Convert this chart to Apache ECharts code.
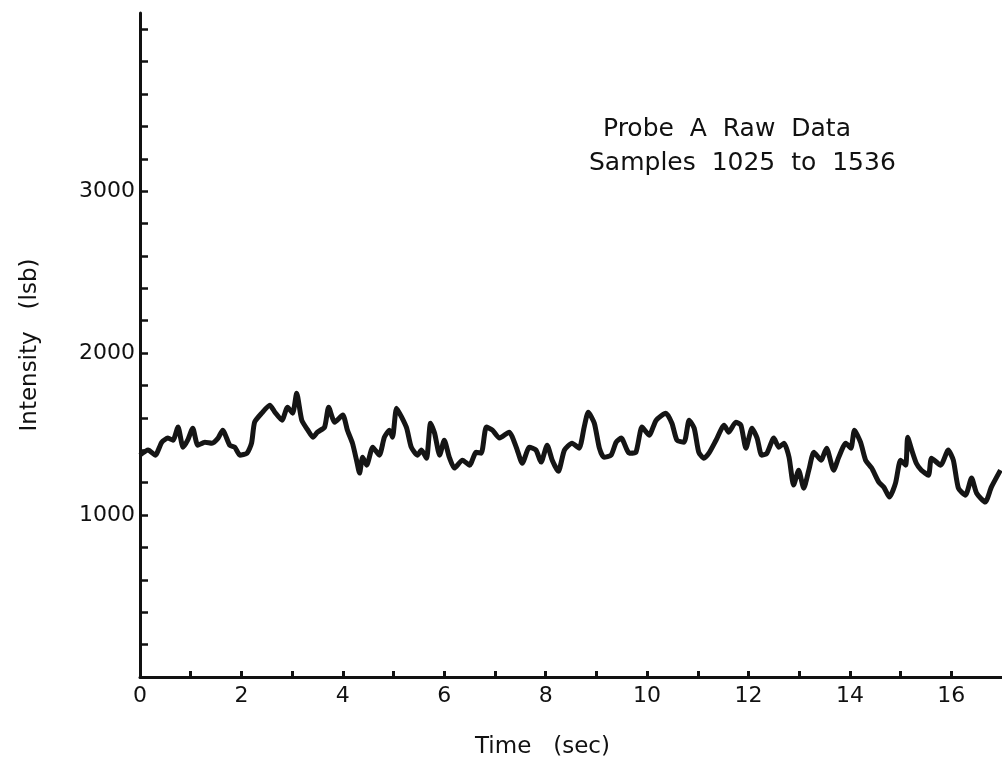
<!DOCTYPE html>
<html>
<head>
<meta charset="utf-8">
<title>Probe A Raw Data</title>
<script src="https://cdn.jsdelivr.net/npm/echarts@6/dist/echarts.min.js"></script>
<style>
  html, body { margin: 0; padding: 0; background: #fff; }
  #main { width: 1002px; height: 761px; }
</style>
</head>
<body>
<div id="main"></div>
<script>
// time (sec) and intensity (lsb)
var timeSec = [
	0.00, 0.16, 0.30, 0.43, 0.55, 0.65, 0.75, 0.85, 0.94, 1.04,
	1.14, 1.28, 1.42, 1.54, 1.63, 1.77, 1.87, 1.97, 2.11, 2.20,
	2.26, 2.40, 2.56, 2.66, 2.80, 2.91, 3.01, 3.09, 3.19, 3.31,
	3.41, 3.50, 3.64, 3.72, 3.84, 4.00, 4.09, 4.19, 4.27, 4.33,
	4.39, 4.47, 4.59, 4.72, 4.82, 4.92, 4.98, 5.06, 5.16, 5.26,
	5.35, 5.47, 5.55, 5.65, 5.73, 5.81, 5.91, 6.00, 6.10, 6.20,
	6.36, 6.50, 6.63, 6.73, 6.83, 6.95, 7.09, 7.28, 7.42, 7.54,
	7.68, 7.81, 7.91, 8.03, 8.13, 8.25, 8.37, 8.52, 8.66, 8.76,
	8.84, 8.96, 9.06, 9.15, 9.29, 9.39, 9.49, 9.65, 9.78, 9.90,
	10.04, 10.18, 10.37, 10.49, 10.59, 10.73, 10.83, 10.93, 11.02, 11.12,
	11.22, 11.36, 11.52, 11.61, 11.75, 11.85, 11.95, 12.07, 12.17, 12.26,
	12.36, 12.50, 12.60, 12.70, 12.80, 12.89, 12.99, 13.09, 13.19, 13.29,
	13.43, 13.54, 13.68, 13.78, 13.92, 14.02, 14.09, 14.21, 14.31, 14.43,
	14.57, 14.67, 14.78, 14.90, 15.00, 15.10, 15.14, 15.22, 15.31, 15.41,
	15.55, 15.61, 15.79, 15.94, 16.04, 16.14, 16.28, 16.40, 16.50, 16.67,
	16.79, 16.97
];
var intensity = [
	1370, 1401, 1370, 1450, 1475, 1462, 1543, 1419, 1462, 1536,
	1431, 1450, 1444, 1475, 1524, 1431, 1419, 1370, 1382, 1444,
	1573, 1629, 1678, 1635, 1586, 1666, 1629, 1752, 1586, 1524,
	1481, 1512, 1543, 1666, 1573, 1617, 1524, 1444, 1339, 1259,
	1357, 1308, 1419, 1370, 1481, 1524, 1481, 1660, 1604, 1536,
	1419, 1370, 1401, 1351, 1567, 1505, 1370, 1462, 1357, 1290,
	1339, 1308, 1388, 1382, 1543, 1524, 1475, 1512, 1419, 1320,
	1419, 1401, 1327, 1431, 1339, 1270, 1401, 1444, 1413, 1543,
	1635, 1567, 1413, 1357, 1370, 1450, 1475, 1382, 1388, 1543,
	1493, 1586, 1629, 1567, 1462, 1450, 1586, 1536, 1388, 1351,
	1382, 1462, 1555, 1512, 1573, 1555, 1413, 1536, 1475, 1370,
	1380, 1475, 1419, 1444, 1357, 1185, 1277, 1166, 1277, 1388,
	1339, 1413, 1277, 1357, 1444, 1413, 1524, 1450, 1339, 1290,
	1203, 1172, 1111, 1197, 1339, 1308, 1481, 1401, 1320, 1277,
	1246, 1351, 1308, 1401, 1339, 1166, 1123, 1228, 1135, 1080,
	1172, 1277
];
var xTicks = [1, 2, 3, 4, 5, 6, 7, 8, 9, 10, 11, 12, 13, 14, 15, 16];
var xLabels = [0, 2, 4, 6, 8, 10, 12, 14, 16];
var yTicks = [200, 400, 600, 800, 1000, 1200, 1400, 1600, 1800, 2000,
	2200, 2400, 2600, 2800, 3000, 3200, 3400, 3600, 3800, 4000];
var yLabels = [1000, 2000, 3000];

var chart = echarts.init(document.getElementById('main'));
var font = 'DejaVu Sans, Liberation Sans, sans-serif';

var points = [];
for (var i = 0; i < timeSec.length; i++) {
	points.push([timeSec[i], intensity[i]]);
}

var option = {
	backgroundColor: '#fff',
	animation: false,
	title: [ {
		text: 'Probe  A  Raw  Data',
		left: 598, top: 112,
		textStyle: { fontFamily: font, fontSize: 25, fontWeight: 'normal', color: '#111' }
	}, {
		text: 'Samples  1025  to  1536',
		left: 584, top: 146,
		textStyle: { fontFamily: font, fontSize: 25, fontWeight: 'normal', color: '#111' }
	}, {
		text: 'Time   (sec)',
		left: 470, top: 731,
		textStyle: { fontFamily: font, fontSize: 23, fontWeight: 'normal', color: '#111' }
	} ],
	grid: { left: 140, right: 0, top: 13, bottom: 84 },
	xAxis: {
		type: 'value',
		min: 0, max: 17, interval: 1,
		axisLine: { lineStyle: { color: '#111', width: 3 } },
		axisTick: { inside: true, length: 6, customValues: xTicks, lineStyle: { color: '#111', width: 3 } },
		axisLabel: { customValues: xLabels, margin: 8, fontFamily: font, fontSize: 22, color: '#111' },
		splitLine: { show: false }
	},
	yAxis: {
		type: 'value',
		min: 0, max: 4100,
		name: 'Intensity   (lsb)',
		nameLocation: 'middle',
		nameGap: 98,
		nameTextStyle: { fontFamily: font, fontSize: 23, color: '#111' },
		axisLine: { lineStyle: { color: '#111', width: 3 } },
		axisTick: { inside: true, length: 8, customValues: yTicks, lineStyle: { color: '#111', width: 2.5 } },
		axisLabel: {
			customValues: yLabels, margin: 5, fontFamily: font, fontSize: 22, color: '#111',
			formatter: function(v) { return String(v); }
		},
		splitLine: { show: false }
	},
	series: [ {
		type: 'line',
		data: points,
		showSymbol: false,
		smooth: 0.2,
		lineStyle: { color: '#151515', width: 5 }
	} ]
};

chart.setOption(option);
</script>
</body>
</html>
